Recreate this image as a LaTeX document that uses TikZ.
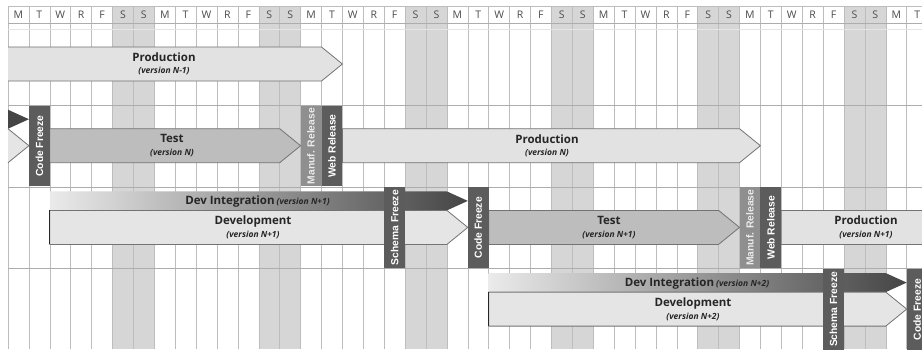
\documentclass[tikz,border=0pt]{standalone}
\usepackage{fontspec}
\setmainfont{Open Sans}
\newfontfamily\boxfont{Liberation Sans}

% palette
\definecolor{gridln}{gray}{0.74}
\definecolor{rowln}{gray}{0.68}
\definecolor{faintln}{gray}{0.9}
\definecolor{wkend}{gray}{0.84}
\definecolor{prodfill}{gray}{0.885}
\definecolor{testfill}{gray}{0.74}
\definecolor{devfill}{gray}{0.9}
\definecolor{barline}{gray}{0.45}
\definecolor{edgeline}{gray}{0.15}
\definecolor{msdark}{gray}{0.36}
\definecolor{mslight}{gray}{0.56}
\definecolor{labeltxt}{gray}{0.15}
\definecolor{hdrtxt}{gray}{0.3}
\definecolor{intA}{gray}{0.92}
\definecolor{intB}{gray}{0.76}
\definecolor{intC}{gray}{0.27}

\newcommand\verfont{\fontsize{8.5}{10}\selectfont\itshape}

% pentagon bar: style, left x, body end x, top y, height (head is one day wide)
\newcommand\pentbar[5]{%
  \path[#1] (#2,#4) -- (#3,#4) -- ({#3+20.9},{#4+#5/2}) -- (#3,{#4+#5}) -- (#2,{#4+#5}) -- cycle;}
% dark left edge of a bar
\newcommand\leftedge[3]{\draw[edgeline, line width=0.9pt] (#1,#2) -- (#1,{#2+#3});}

\tikzset{
  hdr/.style={inner sep=0pt, text=hdrtxt, font=\fontsize{10.5}{12}\selectfont},
  prodbar/.style={fill=prodfill, draw=barline, line width=0.8pt},
  testbar/.style={fill=testfill, draw=barline, line width=0.8pt},
  devbar/.style={fill=devfill, draw=barline, line width=0.8pt},
  intbar/.style={left color=intA, middle color=intB, right color=intC},
  barlabel/.style={align=center, inner sep=0pt, text=labeltxt,
    font=\bfseries\fontsize{11.5}{12.5}\selectfont},
  intlabel/.style={inner sep=0pt, text=labeltxt, font=\bfseries\fontsize{11.5}{13}\selectfont},
  msbox/.style={rotate=90, minimum width=80.7pt, minimum height=20.9pt, inner sep=0pt,
    text=white, font=\boxfont\bfseries\fontsize{10.3}{12}\selectfont},
  msdarkbox/.style={msbox, fill=msdark},
  mslightbox/.style={msbox, fill=mslight, text=white!92!black},
}

\begin{document}
\begin{tikzpicture}[x=1pt,y=-1pt]
\path[use as bounding box] (0,0) rectangle (922,349);
\clip (0,0) rectangle (922,349);
\fill[white] (0,0) rectangle (922,349);

% weekend columns
\foreach \w in {0,...,5}
  \fill[wkend] ({8+20.9*(7*\w+5)},6) rectangle ({8+20.9*(7*\w+7)},349);

% day grid
\foreach \k in {0,...,43}
  \draw[gridln, line width=0.6pt] ({8+20.9*\k},6) -- ({8+20.9*\k},349);
\draw[gridln, line width=0.6pt] (8,6) -- (922,6);
\draw[faintln, line width=0.6pt] (8,29.5) -- (922,29.5);
\foreach \y in {23.5,105.2,186.9,268.6}
  \draw[rowln, line width=0.7pt] (8,\y) -- (922,\y);

% day letters
\foreach \k in {0,...,43}{
  \pgfmathtruncatemacro\d{mod(\k,7)}
  \node[hdr] (hd\k) at ({18.45+20.9*\k},15) {\ifcase\d M\or T\or W\or R\or F\or S\or S\fi};
}

% ---- row 1: production N-1 ----
\fill[prodfill] (8,47) -- (321.5,47) -- (342.4,64) -- (321.5,81) -- (8,81) -- cycle;
\draw[barline, line width=0.8pt] (8,47) -- (321.5,47) -- (342.4,64) -- (321.5,81) -- (8,81);
\node[barlabel] (prodA) at (164,64) {Production\\{\verfont(version N-1)}};

% ---- row 2: test N, production N ----
\fill[intC] (8,109.7) -- (28.9,119.2) -- (8,128.7) -- cycle;
\fill[devfill] (8,128.7) -- (28.9,145.7) -- (8,162.7) -- cycle;
\draw[barline, line width=0.8pt] (8,128.7) -- (28.9,145.7) -- (8,162.7);

\pentbar{testbar}{49.8}{279.7}{128.7}{34}
\leftedge{49.8}{128.7}{34}
\node[barlabel] (testA) at (172,145.7) {Test\\{\verfont(version N)}};

\pentbar{prodbar}{342.4}{739.5}{128.7}{34}
\node[barlabel] (prodB) at (547,145.7) {Production\\{\verfont(version N)}};

\node[msdarkbox] (cfA) at (39.35,146.05) {Code Freeze};
\node[mslightbox] (mrA) at (311.05,146.05) {Manuf. Release};
\node[msdarkbox] (wrA) at (331.95,146.05) {Web Release};

% ---- row 3: development N+1, test N+1, production N+1 ----
\pentbar{intbar}{49.8}{446.9}{191.4}{19}
\node[intlabel] (intB) at (257.5,201.8) {Dev Integration\hspace{2pt}{\verfont(version N+1)}};

\pentbar{devbar}{49.8}{446.9}{210.4}{34}
\leftedge{49.8}{210.4}{34}
\node[barlabel] (devB) at (253,227.4) {Development\\{\verfont(version N+1)}};

\pentbar{testbar}{488.7}{718.6}{210.4}{34}
\leftedge{488.7}{210.4}{34}
\node[barlabel] (testB) at (609,227.4) {Test\\{\verfont(version N+1)}};

\pentbar{prodbar}{781.3}{940}{210.4}{34}
\node[barlabel] (prodC) at (866,227.4) {Production\\{\verfont(version N+1)}};

\node[msdarkbox] (sfB) at (394.65,227.75) {Schema Freeze};
\node[msdarkbox] (cfB) at (478.25,227.75) {Code Freeze};
\node[mslightbox] (mrB) at (749.95,227.75) {Manuf. Release};
\node[msdarkbox] (wrB) at (770.85,227.75) {Web Release};

% ---- row 4: development N+2 ----
\pentbar{intbar}{488.7}{885.8}{273.1}{19}
\node[intlabel] (intC) at (697,283.5) {Dev Integration\hspace{2pt}{\verfont(version N+2)}};

\pentbar{devbar}{488.7}{885.8}{292.1}{34}
\leftedge{488.7}{292.1}{34}
\node[barlabel] (devC) at (693,309.1) {Development\\{\verfont(version N+2)}};

\node[msdarkbox] (sfC) at (833.55,309.45) {Schema Freeze};
\node[msdarkbox] (cfC) at (917.15,309.45) {Code Freeze};
\end{tikzpicture}
\end{document}
